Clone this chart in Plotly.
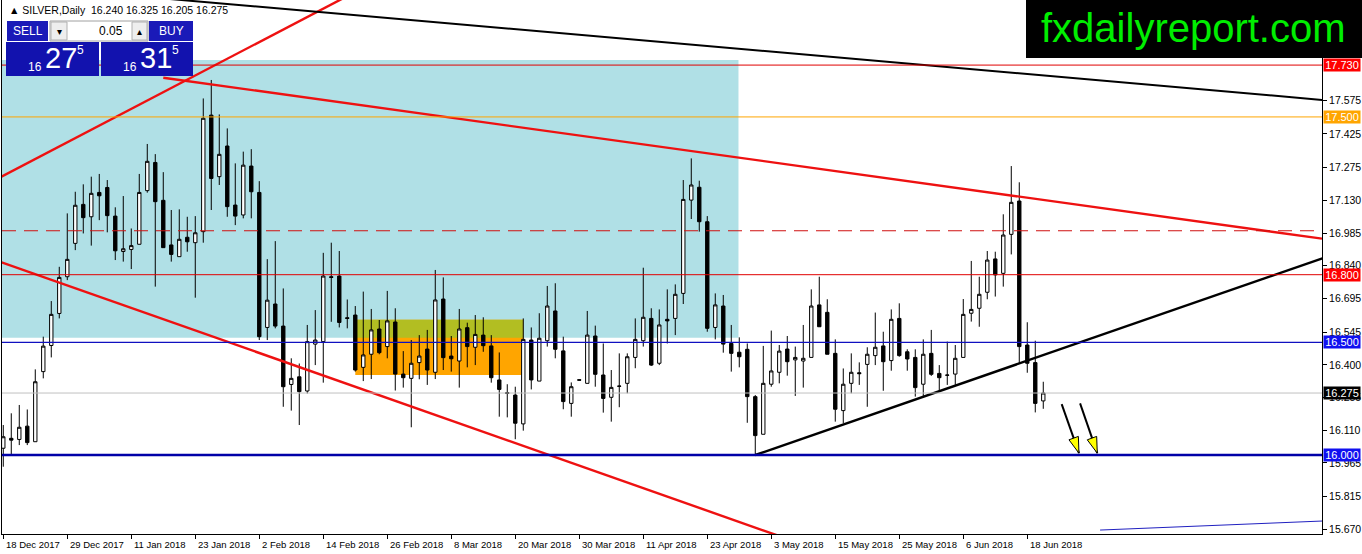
import plotly.graph_objects as go

# ---------------- data ----------------
opens = [16.030, 16.074, 16.069, 16.128, 16.059, 16.370, 16.486, 16.628, 16.791, 16.939,
         17.112, 17.057, 17.165, 17.187, 17.060, 16.903, 16.912, 16.935, 17.173, 17.298,
         17.130, 16.932, 16.880, 16.966, 16.942, 16.991, 17.508, 17.235, 17.371, 17.109,
         17.065, 17.282, 17.165, 16.566, 16.670, 16.572, 16.313, 16.347, 16.284, 16.492,
         16.503, 16.791, 16.794, 16.609, 16.621, 16.389, 16.447, 16.559, 16.481, 16.590,
         16.359, 16.340, 16.410, 16.470, 16.367, 16.692, 16.439, 16.417, 16.565, 16.478,
         16.532, 16.484, 16.333, 16.277, 16.266, 16.138, 16.510, 16.328, 16.507, 16.639,
         16.462, 16.229, 16.334, 16.318, 16.528, 16.355, 16.256, 16.306, 16.318, 16.433,
         16.507, 16.606, 16.407, 16.602, 16.606, 16.717, 17.131, 17.188, 17.035, 16.566,
         16.661, 16.495, 16.456, 16.469, 16.259, 16.092, 16.314, 16.367, 16.470, 16.422,
         16.417, 16.433, 16.666, 16.633, 16.451, 16.197, 16.318, 16.365, 16.402, 16.441,
         16.484, 16.419, 16.606, 16.458, 16.433, 16.314, 16.451, 16.362, 16.355, 16.359,
         16.433, 16.629, 16.651, 16.722, 16.870, 16.806, 16.979, 17.127, 16.488, 16.410,
         16.240]
highs = [16.133, 16.185, 16.222, 16.202, 16.380, 16.525, 16.683, 16.835, 17.072, 17.168,
         17.201, 17.235, 17.247, 17.220, 17.099, 17.149, 17.005, 17.247, 17.380, 17.335,
         17.255, 17.087, 17.090, 17.057, 17.060, 17.582, 17.664, 17.511, 17.449, 17.294,
         17.346, 17.357, 17.215, 16.869, 16.949, 16.739, 16.429, 16.406, 16.577, 16.643,
         16.897, 16.942, 16.905, 16.690, 16.661, 16.725, 16.648, 16.599, 16.728, 16.651,
         16.461, 16.510, 16.532, 16.555, 16.821, 16.788, 16.528, 16.648, 16.587, 16.621,
         16.611, 16.532, 16.455, 16.314, 16.303, 16.606, 16.566, 16.629, 16.750, 16.762,
         16.525, 16.322, 16.336, 16.639, 16.574, 16.495, 16.377, 16.451, 16.451, 16.606,
         16.831, 16.651, 16.646, 16.735, 16.757, 17.220, 17.316, 17.217, 17.060, 16.717,
         16.710, 16.577, 16.522, 16.495, 16.266, 16.484, 16.552, 16.488, 16.528, 16.481,
         16.577, 16.735, 16.791, 16.691, 16.513, 16.384, 16.451, 16.411, 16.478, 16.632,
         16.547, 16.646, 16.673, 16.469, 16.469, 16.513, 16.555, 16.399, 16.503, 16.488,
         16.692, 16.861, 16.791, 16.905, 16.902, 17.068, 17.282, 17.210, 16.589, 16.507,
         16.325]
lows = [15.948, 16.000, 16.044, 16.044, 16.059, 16.340, 16.433, 16.606, 16.776, 16.909,
        16.983, 16.929, 17.042, 16.988, 16.865, 16.858, 16.825, 16.935, 17.164, 16.747,
        16.920, 16.858, 16.880, 16.902, 16.698, 16.942, 17.087, 17.198, 17.057, 17.020,
        17.050, 17.050, 16.510, 16.510, 16.562, 16.214, 16.197, 16.133, 16.273, 16.399,
        16.321, 16.591, 16.566, 16.562, 16.370, 16.328, 16.337, 16.447, 16.429, 16.286,
        16.299, 16.123, 16.336, 16.311, 16.337, 16.377, 16.370, 16.299, 16.389, 16.399,
        16.458, 16.321, 16.170, 16.167, 16.070, 16.108, 16.291, 16.328, 16.481, 16.429,
        16.203, 16.170, 16.330, 16.318, 16.303, 16.188, 16.148, 16.212, 16.274, 16.385,
        16.481, 16.395, 16.399, 16.495, 16.532, 16.670, 17.047, 16.991, 16.547, 16.513,
        16.454, 16.370, 16.389, 16.143, 16.000, 16.092, 16.303, 16.318, 16.352, 16.262,
        16.299, 16.433, 16.569, 16.447, 16.148, 16.141, 16.274, 16.311, 16.214, 16.399,
        16.285, 16.374, 16.436, 16.374, 16.259, 16.259, 16.351, 16.285, 16.311, 16.311,
        16.433, 16.592, 16.569, 16.691, 16.703, 16.747, 16.890, 16.407, 16.365, 16.189,
        16.205]
closes = [16.081, 16.066, 16.123, 16.055, 16.325, 16.483, 16.624, 16.788, 16.868, 17.108,
          17.053, 17.161, 17.150, 17.062, 16.906, 16.915, 16.929, 17.165, 17.303, 17.124,
          16.920, 16.890, 16.957, 16.946, 16.986, 17.494, 17.227, 17.334, 17.102, 17.060,
          17.286, 17.168, 16.525, 16.687, 16.572, 16.303, 16.340, 16.281, 16.503, 16.510,
          16.794, 16.788, 16.588, 16.606, 16.377, 16.444, 16.555, 16.454, 16.595, 16.359,
          16.343, 16.407, 16.439, 16.377, 16.688, 16.432, 16.427, 16.559, 16.481, 16.535,
          16.485, 16.343, 16.291, 16.273, 16.141, 16.513, 16.333, 16.518, 16.661, 16.469,
          16.237, 16.303, 16.332, 16.532, 16.358, 16.251, 16.300, 16.305, 16.436, 16.513,
          16.611, 16.399, 16.577, 16.595, 16.713, 17.134, 17.198, 17.035, 16.562, 16.666,
          16.492, 16.451, 16.436, 16.259, 16.086, 16.318, 16.373, 16.461, 16.414, 16.433,
          16.429, 16.661, 16.569, 16.447, 16.203, 16.314, 16.367, 16.361, 16.447, 16.478,
          16.414, 16.602, 16.441, 16.426, 16.299, 16.447, 16.358, 16.343, 16.354, 16.429,
          16.624, 16.646, 16.713, 16.865, 16.799, 16.976, 17.121, 16.481, 16.407, 16.229,
          16.275]
bar_index = list(range(len(opens)))

date_labels = ["18 Dec 2017", "29 Dec 2017", "11 Jan 2018", "23 Jan 2018", "2 Feb 2018",
               "14 Feb 2018", "26 Feb 2018", "8 Mar 2018", "20 Mar 2018", "30 Mar 2018",
               "11 Apr 2018", "23 Apr 2018", "3 May 2018", "15 May 2018", "25 May 2018",
               "6 Jun 2018", "18 Jun 2018"]
date_label_bars = [0, 8, 16, 24, 32, 40, 48, 56, 64, 72, 80, 88, 96, 104, 112, 120, 128]

price_ticks = [17.575, 17.425, 17.275, 17.130, 16.985, 16.840, 16.695, 16.545,
               16.400, 16.255, 16.110, 15.965, 15.815, 15.670]

# horizontal levels
level_top = 17.730
level_orange = 17.500
level_dashed = 16.995
level_mid = 16.800
level_blue = 16.500
level_bid = 16.275
level_support = 16.000

# trend lines: (bar, price) anchor pairs
red_upper_bars, red_upper_prices = [20, 164.84], [17.674, 16.960]
red_rising_bars, red_rising_prices = [-1, 43], [17.221, 18.036]
red_lower_bars, red_lower_prices = [-1, 100], [16.865, 15.603]
black_upper_bars, black_upper_prices = [18, 165], [18.032, 17.575]
black_rising_bars, black_rising_prices = [94, 165], [16.000, 16.874]
blue_low_bars, blue_low_prices = [137.1, 164.84], [15.667, 15.707]

# zones
zone_blue_bars, zone_blue_prices = [-0.16, 91.9], [16.520, 17.753]
zone_orange_bars, zone_orange_prices = [44, 65], [16.355, 16.600]
zone_olive_prices = [16.520, 16.600]

# arrows (tail -> tip)
arrow_tail_bars, arrow_tail_prices = [132.3, 134.6], [16.226, 16.229]
arrow_tip_bars, arrow_tip_prices = [134.46, 136.75], [16.008, 16.008]

# ---------------- figure ----------------
W, H = 1362, 554
ML, MR, MT, MB = 2, 40, 0, 20
PW, PH = W - ML - MR, H - MT - MB
FONT = "Liberation Sans"


def px(x):
    return (x - ML) / PW


def py(y):
    return 1 - (y - MT) / PH


fig = go.Figure()

fig.add_trace(go.Candlestick(
    x=bar_index, open=opens, high=highs, low=lows, close=closes,
    increasing=dict(line=dict(color="black", width=1), fillcolor="white"),
    decreasing=dict(line=dict(color="black", width=1), fillcolor="black"),
    whiskerwidth=0, hoverinfo="skip", showlegend=False))

red = "#EE1111"
for bx, by, col, w in [
    (red_upper_bars, red_upper_prices, red, 2.4),
    (red_rising_bars, red_rising_prices, red, 2.4),
    (red_lower_bars, red_lower_prices, red, 2.4),
    (black_upper_bars, black_upper_prices, "black", 2),
    (black_rising_bars, black_rising_prices, "black", 2.4),
    (blue_low_bars, blue_low_prices, "#2020C0", 1),
]:
    fig.add_trace(go.Scatter(x=bx, y=by, mode="lines", line=dict(color=col, width=w),
                             hoverinfo="skip", showlegend=False))

# arrow shafts
for i in range(len(arrow_tip_bars)):
    fig.add_trace(go.Scatter(x=[arrow_tail_bars[i], arrow_tip_bars[i]],
                             y=[arrow_tail_prices[i], arrow_tip_prices[i]],
                             mode="lines", line=dict(color="black", width=2),
                             hoverinfo="skip", showlegend=False))

shapes = []
# zones (background)
shapes.append(dict(type="rect", xref="x", yref="y", layer="below",
                   x0=zone_blue_bars[0], x1=zone_blue_bars[1],
                   y0=zone_blue_prices[0], y1=zone_blue_prices[1],
                   fillcolor="#B0E0E6", line=dict(width=0)))
shapes.append(dict(type="rect", xref="x", yref="y", layer="below",
                   x0=zone_orange_bars[0], x1=zone_orange_bars[1],
                   y0=zone_orange_prices[0], y1=zone_orange_prices[1],
                   fillcolor="#FFA500", line=dict(width=0)))
shapes.append(dict(type="rect", xref="x", yref="y", layer="below",
                   x0=zone_orange_bars[0], x1=zone_orange_bars[1],
                   y0=zone_olive_prices[0], y1=zone_olive_prices[1],
                   fillcolor="#B2BE22", line=dict(width=0)))

# horizontal lines
for lv, col, w, dash in [
    (level_top, "#E00000", 1, "solid"),
    (level_orange, "#FFA500", 1, "solid"),
    (level_dashed, "#D01010", 1.2, "14px,8px"),
    (level_mid, "#E00000", 1, "solid"),
    (level_blue, "#1010C0", 1.2, "solid"),
    (level_bid, "#C0C0C0", 1, "solid"),
    (level_support, "#0000A8", 2.5, "solid"),
]:
    shapes.append(dict(type="line", xref="paper", yref="y", layer="above",
                       x0=0, x1=1, y0=lv, y1=lv, line=dict(color=col, width=w, dash=dash)))

# yellow arrow heads (pixel-sized, anchored at the tip)
for i in range(len(arrow_tip_bars)):
    shapes.append(dict(type="path", xref="x", yref="y", layer="above",
                       xsizemode="pixel", ysizemode="pixel",
                       xanchor=arrow_tip_bars[i], yanchor=arrow_tip_prices[i],
                       path="M 0,0 L -0.6,16.8 L -10.0,13.4 Z",
                       fillcolor="#FFFF00", line=dict(color="black", width=1)))

# trading panel (top-left)
blue_btn = "#1A1AB8"
shapes += [
    dict(type="rect", xref="paper", yref="paper", layer="above",
         x0=px(7), x1=px(48), y0=py(41), y1=py(21), fillcolor=blue_btn, line=dict(width=0)),
    dict(type="rect", xref="paper", yref="paper", layer="above",
         x0=px(50), x1=px(148), y0=py(41), y1=py(21), fillcolor="white",
         line=dict(color="#A0A0A0", width=1)),
    dict(type="rect", xref="paper", yref="paper", layer="above",
         x0=px(51), x1=px(67), y0=py(40), y1=py(22), fillcolor="#EEEEEE",
         line=dict(color="#B0B0B0", width=1)),
    dict(type="rect", xref="paper", yref="paper", layer="above",
         x0=px(132), x1=px(147), y0=py(40), y1=py(22), fillcolor="#EEEEEE",
         line=dict(color="#B0B0B0", width=1)),
    dict(type="rect", xref="paper", yref="paper", layer="above",
         x0=px(149), x1=px(193), y0=py(41), y1=py(21), fillcolor=blue_btn, line=dict(width=0)),
    dict(type="rect", xref="paper", yref="paper", layer="above",
         x0=px(6), x1=px(99), y0=py(76), y1=py(42), fillcolor="#1212AE", line=dict(width=0)),
    dict(type="rect", xref="paper", yref="paper", layer="above",
         x0=px(101), x1=px(193), y0=py(76), y1=py(42), fillcolor="#1212AE", line=dict(width=0)),
    # watermark box
    dict(type="rect", xref="paper", yref="paper", layer="above",
         x0=px(1026), x1=px(1362), y0=py(58), y1=py(0), fillcolor="black", line=dict(width=0)),
]

annotations = []
# price-label boxes on the axis
for lv, bg in [(level_top, "#FF0000"), (level_orange, "#FFA500"), (level_mid, "#FF0000"),
               (level_blue, "#1010F0"), (level_bid, "black"), (level_support, "#1010F0")]:
    annotations.append(dict(xref="paper", yref="y", x=1, y=lv, xanchor="left", yanchor="middle",
                            xshift=1, text=f"{lv:.3f}", showarrow=False, bgcolor=bg,
                            font=dict(family=FONT, size=11, color="white"),
                            width=36, height=12, align="center", borderpad=0))

# date labels, left-aligned at their tick marks (as MT4 draws them)
for b, s in zip(date_label_bars, date_labels):
    annotations.append(dict(xref="x", yref="paper", x=b, y=0, xanchor="left", yanchor="top",
                            xshift=1, yshift=-3, text=s, showarrow=False,
                            font=dict(family=FONT, size=9.5, color="black")))


def txt(x, y, s, size, color, xanchor="center", family=FONT):
    annotations.append(dict(xref="paper", yref="paper", x=px(x), y=py(y), text=s,
                            showarrow=False, xanchor=xanchor, yanchor="middle",
                            font=dict(family=family, size=size, color=color)))


txt(7, 10, "▲ SILVER,Daily  16.240 16.325 16.205 16.275", 10.5, "black", xanchor="left")
txt(27.5, 31, "SELL", 12, "white")
txt(171, 31, "BUY", 12, "white")
txt(125, 31, "0.05", 12, "black", xanchor="right")
txt(59, 31, "▾", 10, "black")
txt(139.5, 31, "▴", 10, "black")
txt(34.5, 67, "16", 12, "white")
txt(60.5, 58, "27", 29, "white")
txt(80.5, 50, "5", 12, "white")
txt(129.5, 67, "16", 12, "white")
txt(155.5, 58, "31", 29, "white")
txt(175.5, 50, "5", 12, "white")
txt(1193, 28, "fxdailyreport.com", 40, "#00EE00")

fig.update_layout(
    width=W, height=H, autosize=False,
    margin=dict(l=ML, r=MR, t=MT, b=MB, pad=0, autoexpand=False),
    paper_bgcolor="white", plot_bgcolor="white",
    showlegend=False, boxgap=0.4,
    shapes=shapes, annotations=annotations,
    font=dict(family=FONT, size=10, color="black"),
    xaxis=dict(range=[-0.16, 164.84], rangeslider=dict(visible=False), automargin=False,
               showline=True, linecolor="black", linewidth=1, mirror=False,
               ticks="outside", ticklen=4, tickcolor="black",
               tickvals=date_label_bars, showticklabels=False,
               showgrid=False, zeroline=False, fixedrange=True),
    yaxis=dict(side="right", range=[15.6495, 18.0188], automargin=False,
               showline=True, linecolor="black", linewidth=1, mirror=True,
               ticks="outside", ticklen=4, tickcolor="black",
               tickvals=price_ticks, ticktext=[f"{v:.3f}" for v in price_ticks],
               tickfont=dict(family=FONT, size=10.5, color="black"),
               showgrid=False, zeroline=False, fixedrange=True),
)

fig.write_html("out.html", config={"displayModeBar": False},
               post_script="document.body.style.margin='0px';")
